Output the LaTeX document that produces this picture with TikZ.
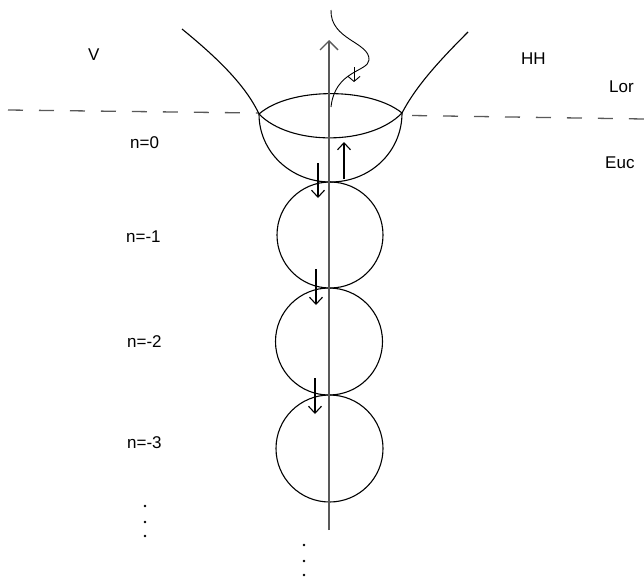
\documentclass[tikz,border=0pt]{standalone}
\usepackage{fontspec}
\setmainfont{Liberation Sans}
\usetikzlibrary{arrows.meta}
\begin{document}
\begin{tikzpicture}[x=1pt,y=-1pt,
  curve/.style={line width=1.1pt,black},
  axisline/.style={line width=1.4pt,black!65},
  dashline/.style={line width=1.3pt,black!65,dash pattern=on 15pt off 16pt},
  thickarrow/.style={line width=1.9pt,-{Straight Barb[length=7pt,width=13pt,line width=1.1pt]}},
  thinarrow/.style={line width=0.9pt,-{Straight Barb[length=5pt,width=12pt,line width=0.9pt]}},
  lbl/.style={font=\fontsize{17}{20}\selectfont,anchor=base west,inner sep=0pt},
  dotmark/.style={fill=black}]
\useasboundingbox (0,0) rectangle (644,576);
% dashed horizon
\coordinate (dl1) at (8,110);
\coordinate (dl2) at (258,113);
\coordinate (dr1) at (412,115.5);
\coordinate (dr2) at (644,119);
\draw[dashline] (dl1) -- (dl2);
\draw[dashline] (dr1) -- (dr2);
% key points
\coordinate (L) at (259,114);
\coordinate (R) at (402,113);
\coordinate (Ltop) at (182,29);
\coordinate (Rtop) at (468,32);
% hyperbola branches
\draw[curve] (Ltop) .. controls (215,56) and (245,84) .. (L);
\draw[curve] (Rtop) .. controls (440,60) and (416,86) .. (R);
% lens
\draw[curve] (L) .. controls (290,87) and (370,87) .. (R);
\draw[curve] (L) .. controls (290,146) and (370,146) .. (R);
% bowl
\draw[curve] (L) .. controls (259,152) and (291,182) .. (330.5,182) .. controls (370,182) and (402,152) .. (R);
% circles
\node[draw,curve,circle,minimum size=106pt,inner sep=0pt] (c1) at (330,235) {};
\node[draw,curve,circle,minimum size=107pt,inner sep=0pt] (c2) at (329,341.5) {};
\node[draw,curve,circle,minimum size=107pt,inner sep=0pt] (c3) at (329.5,448.5) {};
% axis
\coordinate (ab) at (329,530);
\coordinate (at) at (329,40);
\draw[axisline,-{Straight Barb[length=9pt,width=18pt,line width=1.4pt]}] (ab) -- (at);
% wavy curve
\coordinate (w0) at (331,10);
\coordinate (w1) at (369,60);
\coordinate (w2) at (331,107);
\draw[line width=0.9pt] (w0) .. controls (330,40) and (370,42) .. (w1) .. controls (368,72) and (335,70) .. (w2);
\coordinate (sa1) at (354,67);
\coordinate (sa2) at (354,82);
\draw[thinarrow] (sa1) -- (sa2);
% thick arrows
\coordinate (u1) at (344,179);
\coordinate (u2) at (344,142);
\draw[thickarrow] (u1) -- (u2);
\coordinate (d1a) at (318,163);
\coordinate (d1b) at (318,198);
\draw[thickarrow] (d1a) -- (d1b);
\coordinate (d2a) at (316,269);
\coordinate (d2b) at (316,305);
\draw[thickarrow] (d2a) -- (d2b);
\coordinate (d3a) at (315,378);
\coordinate (d3b) at (315,414);
\draw[thickarrow] (d3a) -- (d3b);
% dots
\foreach \yy in {545,561,575} \fill[dotmark] (304,\yy) circle[radius=1.3pt];
\foreach \yy in {506,522,536} \fill[dotmark] (145,\yy) circle[radius=1.3pt];
% labels
\node[lbl] (lV) at (88,60) {V};
\node[lbl] (lHH) at (521,64) {HH};
\node[lbl] (lLor) at (609,92) {Lor};
\node[lbl] (lEuc) at (605,168) {Euc};
\node[lbl] (n0) at (130,148) {n=0};
\node[lbl] (n1) at (126,242) {n=-1};
\node[lbl] (n2) at (127,347) {n=-2};
\node[lbl] (n3) at (127,448) {n=-3};
\end{tikzpicture}
\end{document}
